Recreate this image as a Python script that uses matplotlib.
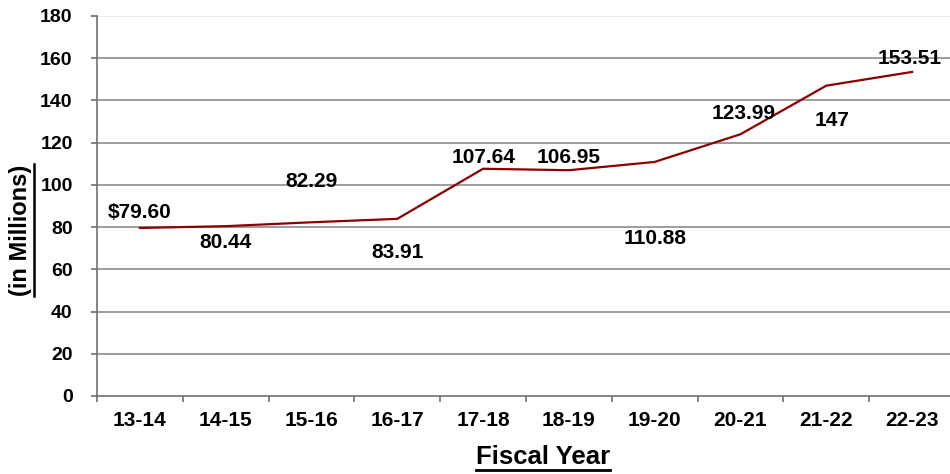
import numpy as np
import matplotlib
matplotlib.use('Agg')
import matplotlib.pyplot as plt
from matplotlib.lines import Line2D

years = ['13-14', '14-15', '15-16', '16-17', '17-18', '18-19', '19-20', '20-21', '21-22', '22-23']
values = [79.60, 80.44, 82.29, 83.91, 107.64, 106.95, 110.88, 123.99, 147, 153.51]
labels = ['$79.60', '80.44', '82.29', '83.91', '107.64', '106.95', '110.88', '123.99', '147', '153.51']

# label offsets (x, y) in points from each point
offs = [(0, 11), (0, -12), (0, 29), (0, -24), (0, 8), (0, 9), (0, -55), (2, 15), (4, -25), (-2, 10)]

plt.rcParams['font.family'] = ['Liberation Sans', 'DejaVu Sans']
plt.rcParams['font.weight'] = 'bold'

fig = plt.figure(figsize=(9.5, 4.74), dpi=100)
ax = fig.add_axes([97/950, 78/474, 858/950, 380/474])

x = np.arange(len(years))
ax.plot(x, values, color='#8b0000', lw=1.6, zorder=3)

for i, (v, t) in enumerate(zip(values, labels)):
    ax.annotate(t, (i, v), xytext=offs[i], textcoords='offset points',
                ha='center', va='center', fontsize=15, fontweight='bold', color='black')

ax.set_xlim(-0.5, len(years) - 0.5)
ax.set_ylim(0, 180)
ax.set_yticks(np.arange(0, 181, 20))
for yv in range(20, 180, 20):
    ax.axhline(yv, color='#8c8c8c', lw=1.2, zorder=1)
ax.axhline(180, color='#e8e8e8', lw=1.2, zorder=1)

ax.set_xticks(x)
ax.set_xticklabels(years)
ax.set_xticks(np.arange(-0.5, len(years)), minor=True)
ax.tick_params(axis='x', which='major', length=0, pad=11, labelsize=15)
ax.tick_params(axis='x', which='minor', length=4, width=1.2, color='#707070')
ax.tick_params(axis='y', length=4.5, width=1.2, color='#707070', pad=13, labelsize=14)
for lab in ax.get_xticklabels() + ax.get_yticklabels():
    lab.set_fontweight('bold')

for s in ['top', 'right']:
    ax.spines[s].set_visible(False)
for s in ['left', 'bottom']:
    ax.spines[s].set_color('#707070')
    ax.spines[s].set_linewidth(1.2)

xl = fig.text(543/950, 1 - 457/474, 'Fiscal Year', ha='center', va='center',
              fontsize=18.5, fontweight='bold')
yl = fig.text(21/950, 1 - 230/474, '(in Millions)', ha='center', va='center',
              rotation=90, fontsize=17, fontweight='bold')

# underline the axis titles
fig.canvas.draw()
r = fig.canvas.get_renderer()
bb = xl.get_window_extent(r)
fig.add_artist(Line2D([bb.x0 / 950, bb.x1 / 950], [(bb.y0 - 1) / 474] * 2,
                      color='black', lw=2, transform=fig.transFigure))
bb = yl.get_window_extent(r)
fig.add_artist(Line2D([(bb.x1 + 1) / 950] * 2, [bb.y0 / 474, bb.y1 / 474],
                      color='black', lw=1.8, transform=fig.transFigure))

fig.savefig('out.png', dpi=100)
